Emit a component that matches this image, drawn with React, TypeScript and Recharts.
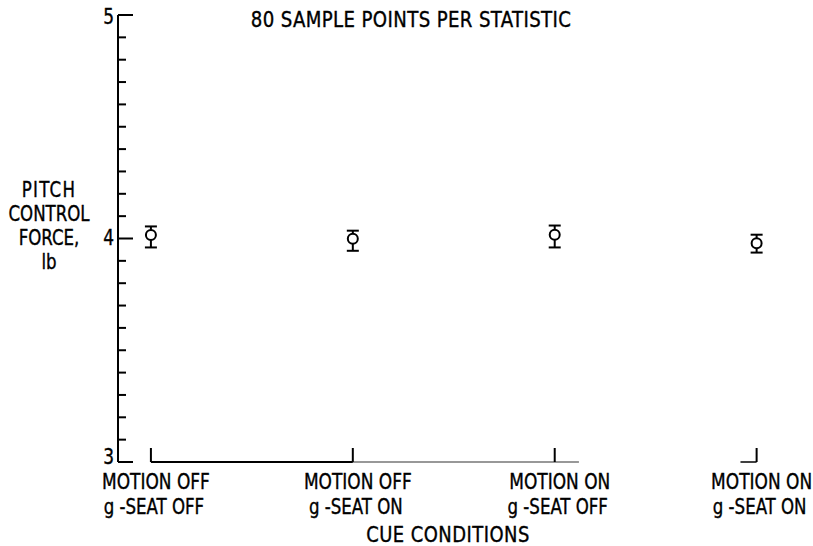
import React from "react";
import {
  ComposedChart,
  Scatter,
  ErrorBar,
  XAxis,
  YAxis,
  ReferenceLine,
  Customized,
} from "recharts";

const motionLabels = ["MOTION OFF", "MOTION OFF", "MOTION ON", "MOTION ON"];
const gSeatLabels = ["g -SEAT OFF", "g -SEAT ON", "g -SEAT OFF", "g -SEAT ON"];
const categoryPositions = [1, 2, 3, 4];
const meanForce = [4.016, 3.999, 4.017, 3.979];
const errLower = [0.056, 0.054, 0.057, 0.042];
const errUpper = [0.038, 0.036, 0.041, 0.038];
const yTicks = [
  3, 3.1, 3.2, 3.3, 3.4, 3.5, 3.6, 3.7, 3.8, 3.9, 4,
  4.1, 4.2, 4.3, 4.4, 4.5, 4.6, 4.7, 4.8, 4.9, 5,
];
const yTickLabels: Record<string, string> = { "3": "3", "4": "4", "5": "5" };
const yLabelLines = ["PITCH", "CONTROL", "FORCE,", "lb"];
const title = "80 SAMPLE POINTS PER STATISTIC";
const xTitle = "CUE CONDITIONS";

const data = categoryPositions.map((x, i) => ({
  x,
  y: meanForce[i],
  err: [errLower[i], errUpper[i]],
}));

const FONT = '"Liberation Sans Narrow", "DejaVu Sans Condensed", "Arial Narrow", sans-serif';

const T = (props: any) => {
  const { x, y, sx = 1, anchor = "middle", ls = 0, size = 20, children } = props;
  return (
    <text
      transform={`translate(${x},${y}) scale(${sx},1)`}
      x={0}
      y={0}
      textAnchor={anchor}
      fontFamily={FONT}
      fontSize={size}
      letterSpacing={ls}
      fill="#000"
      stroke="#000"
      strokeWidth={0.35}
    >
      {children}
    </text>
  );
};

const YTick = (props: any) => {
  const { x, y, payload } = props;
  const v = payload.value;
  const major = Math.abs(v - Math.round(v)) < 1e-6;
  const label = major ? yTickLabels[String(Math.round(v))] : null;
  const dy = Math.round(v) === 3 ? 2 : Math.round(v) === 5 ? 9 : 6;
  return (
    <g>
      <line x1={x} y1={y} x2={x + (major ? 15 : 8)} y2={y} stroke="#000" strokeWidth={2} />
      {label && (
        <T x={x - 4} y={y + dy} anchor="end" sx={0.9} size={21}>
          {label}
        </T>
      )}
    </g>
  );
};

const XTick = (props: any) => {
  const { x, y, payload } = props;
  const i = categoryPositions.indexOf(payload.value);
  if (i < 0) return null;
  return (
    <g>
      <line x1={x} y1={y} x2={x} y2={y - 14} stroke="#000" strokeWidth={2} />
      <T x={x + 5} y={y + 27} sx={0.9} size={21}>
        {motionLabels[i]}
      </T>
      <T x={x + 3} y={y + 52} sx={0.88} size={21}>
        {gSeatLabels[i]}
      </T>
    </g>
  );
};

const PointShape = (props: any) => (
  <circle cx={props.cx} cy={props.cy} r={5} fill="#fff" stroke="#000" strokeWidth={2} />
);

const Texts = () => (
  <g>
    <T x={411} y={27} size={21} sx={0.96} ls={0.4}>{title}</T>
    <T x={448} y={542} size={21} sx={0.95} ls={0.5}>{xTitle}</T>
    {yLabelLines.map((l, i) => (
      <T key={i} x={49} y={197 + i * 24} size={21} sx={0.88} ls={i === 0 ? 1.5 : 0}>
        {l}
      </T>
    ))}
  </g>
);

export default function App() {
  return (
    <div style={{ position: "absolute", left: 0, top: 0, background: "#fff" }}>
      <ComposedChart
        width={813}
        height={546}
        data={data}
        margin={{ top: 15, right: 16, bottom: 1, left: 0 }}
      >
        <XAxis
          type="number"
          dataKey="x"
          domain={[0.837, 4.2]}
          ticks={categoryPositions}
          interval={0}
          tickSize={0}
          tickMargin={0}
          axisLine={false}
          tickLine={false}
          height={83}
          tick={<XTick />}
          allowDataOverflow
        />
        <YAxis
          type="number"
          domain={[3, 5]}
          ticks={yTicks}
          interval={0}
          tickSize={0}
          tickMargin={0}
          width={118}
          axisLine={{ stroke: "#000", strokeWidth: 2 }}
          tickLine={false}
          tick={<YTick />}
          allowDataOverflow
        />
        <ReferenceLine
          segment={[{ x: 1, y: 3 }, { x: 2, y: 3 }]}
          stroke="#000"
          strokeWidth={2}
          ifOverflow="visible"
        />
        <ReferenceLine
          segment={[{ x: 2, y: 3 }, { x: 3.12, y: 3 }]}
          stroke="#333"
          strokeWidth={1.2}
          ifOverflow="visible"
        />
        <ReferenceLine
          segment={[{ x: 3.92, y: 3 }, { x: 4, y: 3 }]}
          stroke="#000"
          strokeWidth={1.5}
          ifOverflow="visible"
        />
        <Scatter dataKey="y" isAnimationActive={false} shape={<PointShape />}>
          <ErrorBar dataKey="err" direction="y" width={6} stroke="#000" strokeWidth={2} />
        </Scatter>
        <Customized component={<Texts />} />
      </ComposedChart>
    </div>
  );
}
